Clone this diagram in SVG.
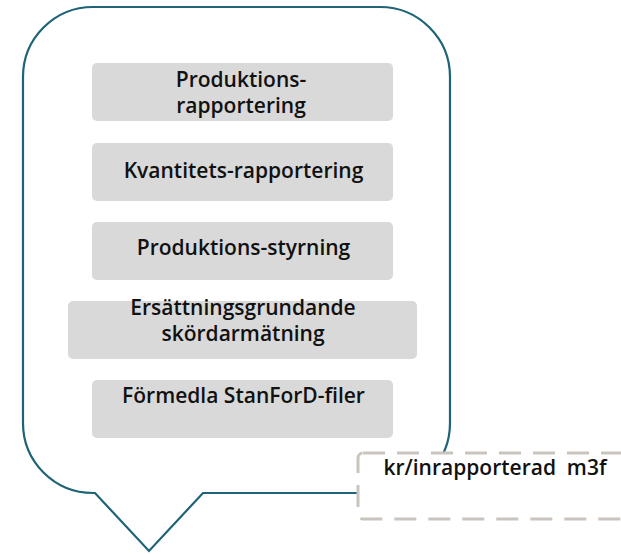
<svg xmlns="http://www.w3.org/2000/svg" width="621" height="554" viewBox="0 0 621 554">
<style>
.box{fill:#d9d9d9;}
.t{font-family:"Open Sans","Noto Sans","DejaVu Sans",sans-serif;font-weight:600;font-size:21px;fill:#111;text-anchor:middle;}
.outline{fill:#fff;stroke:#1f6377;stroke-width:2.2;stroke-linejoin:miter;}
.dash{fill:#fff;stroke:#c9c4be;stroke-width:3;stroke-dasharray:22 12;}
</style>
<g id="callout">
<path class="outline" d="M 93 7 H 380 A 70 70 0 0 1 450 77 V 423 A 70 70 0 0 1 380 493 H 203 L 149 551 L 95 493 H 93 A 70 70 0 0 1 23 423 V 77 A 70 70 0 0 1 93 7 Z"/>
</g>
<g id="n1">
<rect class="box" x="92" y="63" width="301" height="58" rx="5"/>
<text class="t" x="241" y="87">Produktions-</text>
<text class="t" x="241" y="113">rapportering</text>
</g>
<g id="n2">
<rect class="box" x="92" y="143" width="301" height="58" rx="5"/>
<text class="t" x="243.5" y="178">Kvantitets-rapportering</text>
</g>
<g id="n3">
<rect class="box" x="92" y="222" width="301" height="58" rx="5"/>
<text class="t" x="243.5" y="255">Produktions-styrning</text>
</g>
<g id="n4">
<rect class="box" x="68" y="301" width="349" height="58" rx="5"/>
<text class="t" x="243" y="315">Ersättningsgrundande</text>
<text class="t" x="243" y="341">skördarmätning</text>
</g>
<g id="n5">
<rect class="box" x="92" y="380" width="301" height="58" rx="5"/>
<text class="t" x="243.5" y="403">Förmedla StanForD-filer</text>
</g>
<g id="label">
<rect class="dash" x="358" y="453" width="290" height="66" rx="5"/>
<text class="t" x="495" y="475" xml:space="preserve">kr/inrapporterad  m3f</text>
</g>
<g id="connectors"></g>
</svg>
